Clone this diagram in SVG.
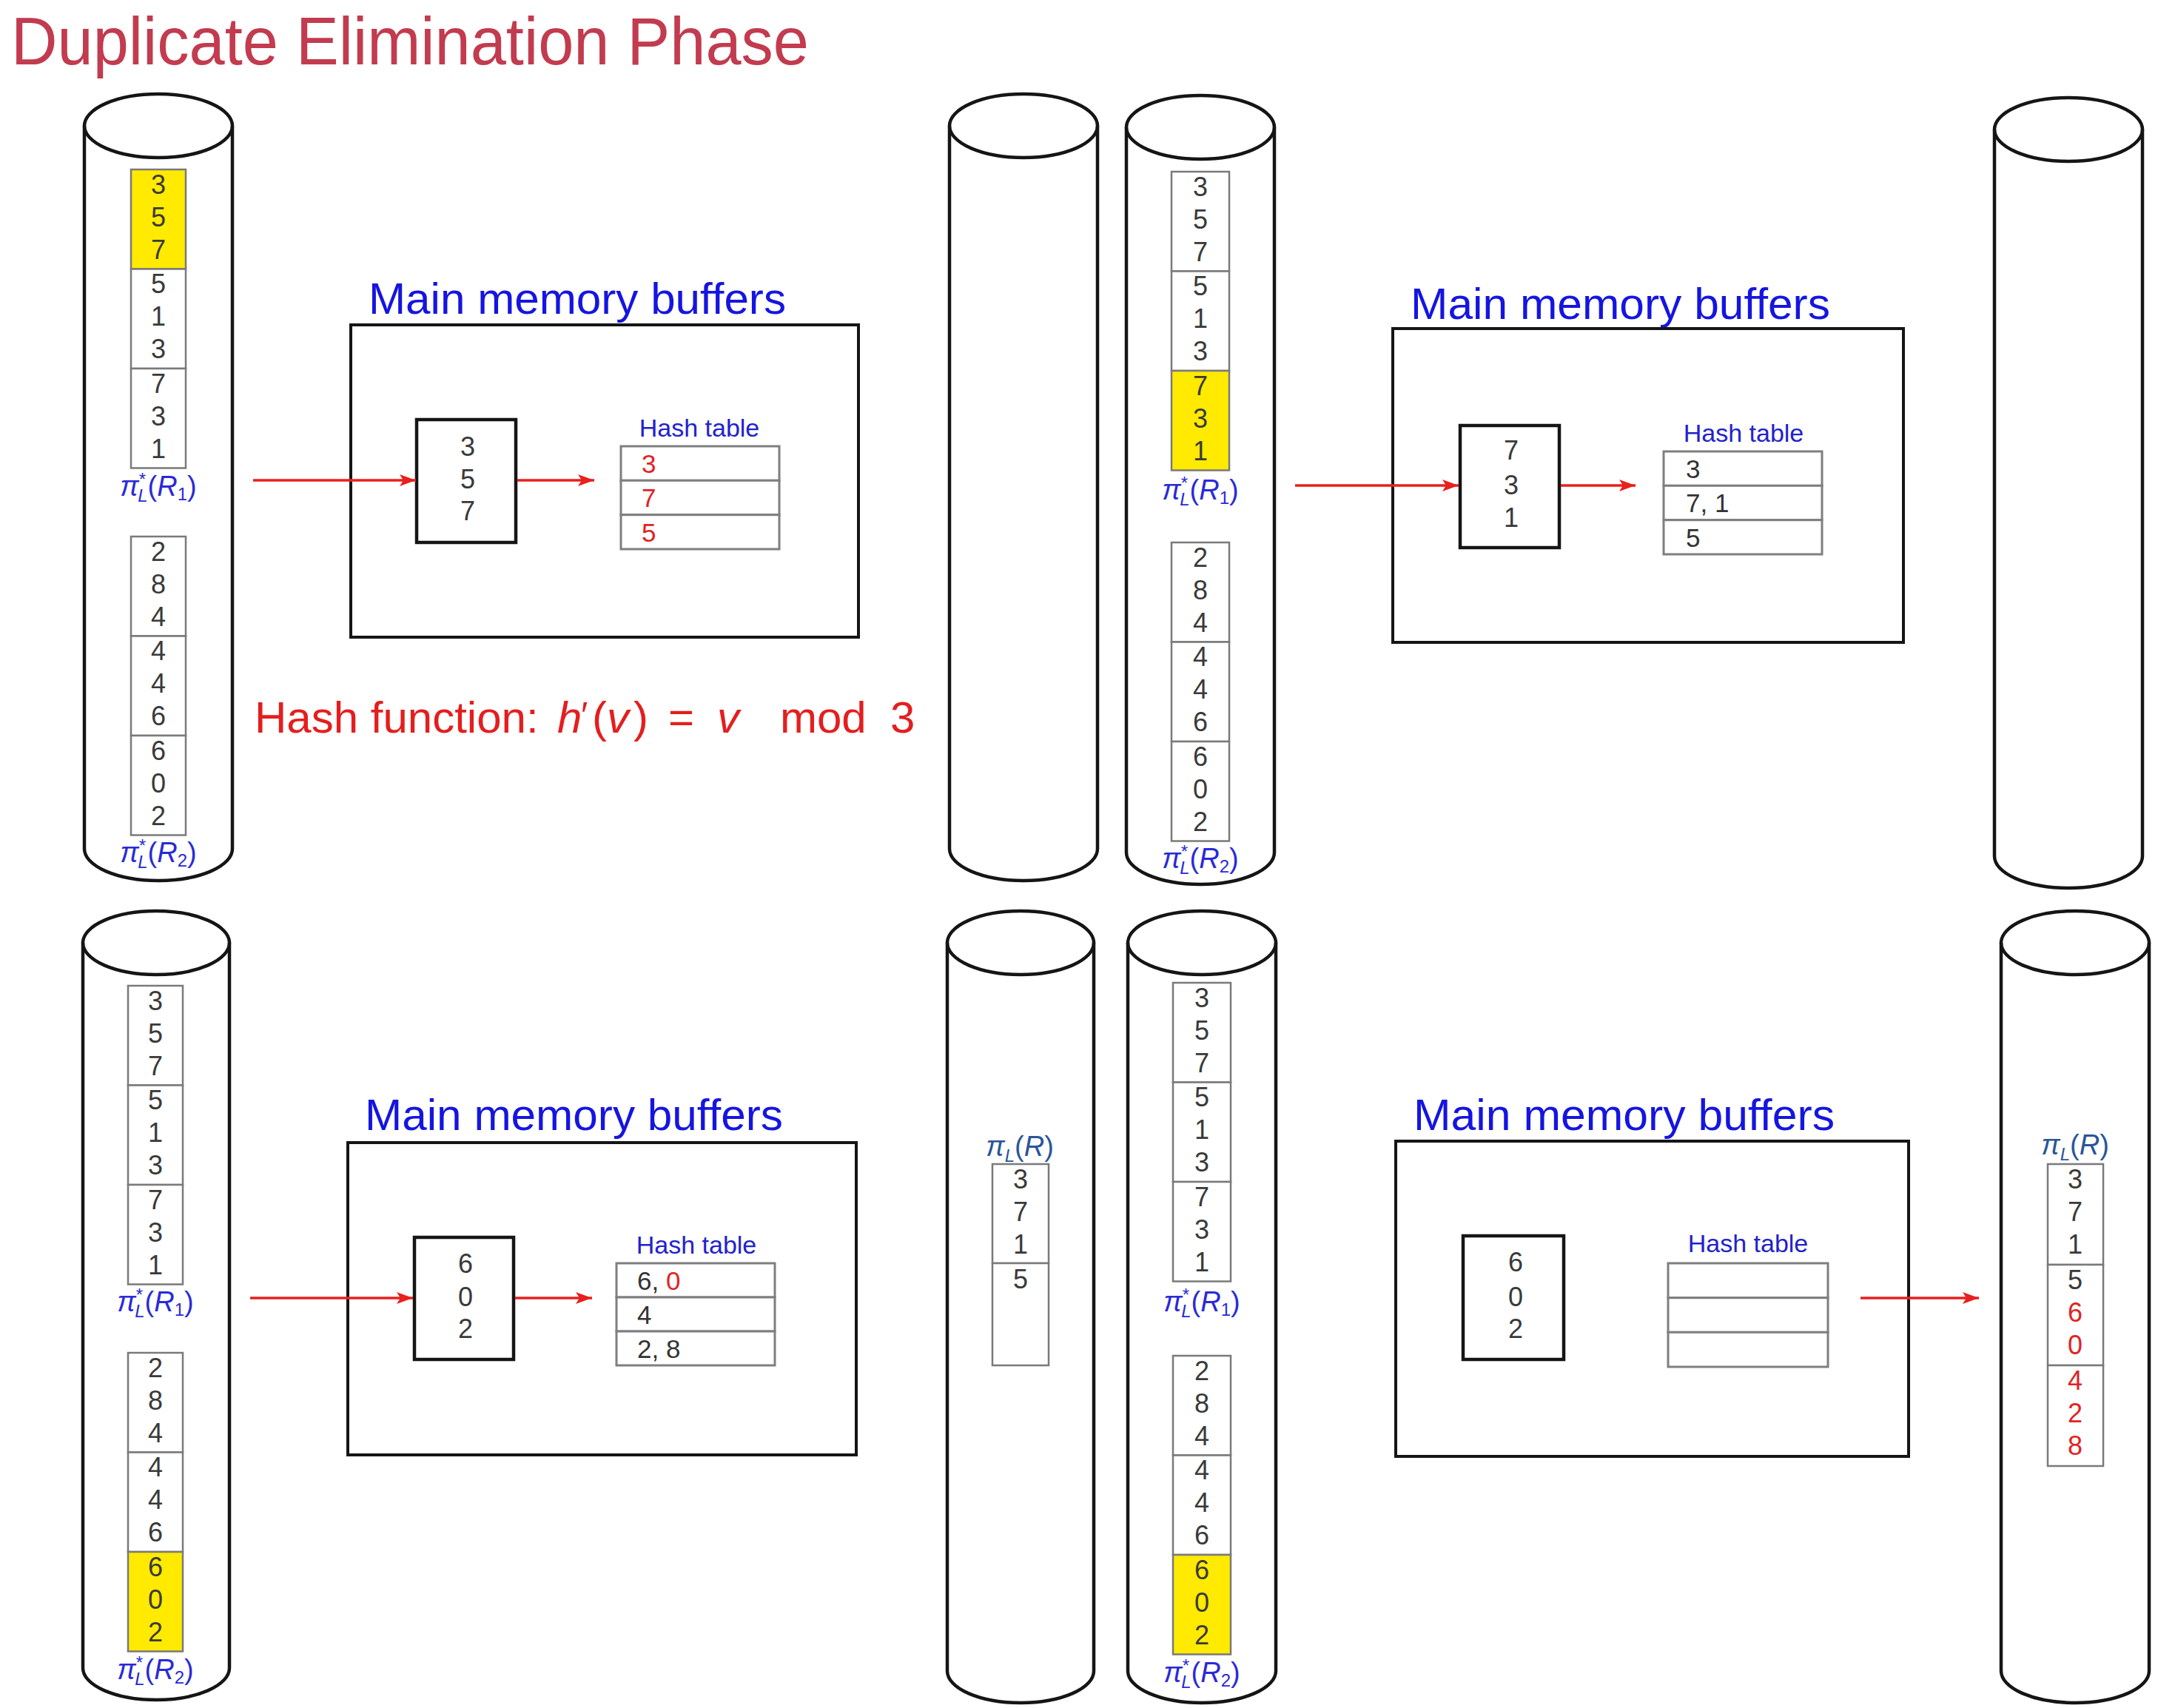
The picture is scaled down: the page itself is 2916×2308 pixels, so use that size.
<svg xmlns="http://www.w3.org/2000/svg" width="2916" height="2308" viewBox="0 0 2916 2308">
<defs>
<style>
.cyl{fill:none;stroke:#151515;stroke-width:4.5}
.blk{fill:#fff;stroke:#7a7a7a;stroke-width:2.5}
.yel{fill:#FFEA00;stroke:#7a7a7a;stroke-width:2.5}
.mem{fill:none;stroke:#151515;stroke-width:4}
.buf{fill:#fff;stroke:#151515;stroke-width:4.5}
.ht{fill:#fff;stroke:#7f7f7f;stroke-width:3}
.d{font-family:"Liberation Sans",Arial,sans-serif;font-size:36px;fill:#3a3a3a;text-anchor:middle}
.hd{font-family:"Liberation Sans",Arial,sans-serif;font-size:35px;fill:#333}
.red{fill:#E02424}
.mmb{font-family:"Liberation Sans",Arial,sans-serif;font-size:60px;fill:#1515E0}
.htl{font-family:"Liberation Sans",Arial,sans-serif;font-size:34px;fill:#2222CC;text-anchor:middle}
.lab{font-family:"Liberation Sans",Arial,sans-serif;font-size:38px;fill:#2a2ad8;text-anchor:middle}
.labr{font-family:"Liberation Sans",Arial,sans-serif;font-size:38px;fill:#2a5598;text-anchor:middle}
.it{font-style:italic}
.arr{stroke:#E8201E;stroke-width:3.5;fill:none;marker-end:url(#ah)}
.hf{font-family:"Liberation Sans",Arial,sans-serif;font-size:60px;fill:#E41E1E}
</style>
<marker id="ah" markerUnits="userSpaceOnUse" markerWidth="24" markerHeight="18" refX="22" refY="8" orient="auto">
<path d="M0,0 L22,8 L0,16 L5,8 z" fill="#E8201E"/>
</marker>
</defs>
<rect width="2916" height="2308" fill="#fff"/>

<text id="title" x="15" y="87" font-family="Liberation Sans, Arial, sans-serif" font-size="90" fill="#C23B4E" textLength="1078" lengthAdjust="spacingAndGlyphs">Duplicate Elimination Phase</text>

<!-- ===== Cylinders ===== -->
<g id="cyl-A">
<path class="cyl" d="M114,170 L114,1147 A100,43 0 0 0 314,1147 L314,170"/>
<ellipse class="cyl" cx="214" cy="170" rx="100" ry="43"/>
</g>
<g id="cyl-B">
<path class="cyl" d="M1283,170 L1283,1147 A100,43 0 0 0 1483,1147 L1483,170"/>
<ellipse class="cyl" cx="1383" cy="170" rx="100" ry="43"/>
</g>
<g id="cyl-C">
<path class="cyl" d="M1522,172 L1522,1152 A100,43 0 0 0 1722,1152 L1722,172"/>
<ellipse class="cyl" cx="1622" cy="172" rx="100" ry="43"/>
</g>
<g id="cyl-D">
<path class="cyl" d="M2695,175 L2695,1157 A100,43 0 0 0 2895,1157 L2895,175"/>
<ellipse class="cyl" cx="2795" cy="175" rx="100" ry="43"/>
</g>
<g id="cyl-E">
<path class="cyl" d="M112,1274 L112,2254 A99,43 0 0 0 310,2254 L310,1274"/>
<ellipse class="cyl" cx="211" cy="1274" rx="99" ry="43"/>
</g>
<g id="cyl-F">
<path class="cyl" d="M1280,1274 L1280,2258 A99,43 0 0 0 1478,2258 L1478,1274"/>
<ellipse class="cyl" cx="1379" cy="1274" rx="99" ry="43"/>
</g>
<g id="cyl-G">
<path class="cyl" d="M1524,1274 L1524,2258 A100,43 0 0 0 1724,2258 L1724,1274"/>
<ellipse class="cyl" cx="1624" cy="1274" rx="100" ry="43"/>
</g>
<g id="cyl-H">
<path class="cyl" d="M2704,1274 L2704,2258 A100,43 0 0 0 2904,2258 L2904,1274"/>
<ellipse class="cyl" cx="2804" cy="1274" rx="100" ry="43"/>
</g>

<!-- ===== Relation blocks, panel TL ===== -->
<g id="A-R1">
<rect class="yel" x="177" y="229" width="74" height="134.5"/>
<rect class="blk" x="177" y="363.5" width="74" height="134.5"/>
<rect class="blk" x="177" y="498" width="74" height="134.5"/>
<text class="d" x="214" y="262">3</text><text class="d" x="214" y="306">5</text><text class="d" x="214" y="350">7</text>
<text class="d" x="214" y="396">5</text><text class="d" x="214" y="440">1</text><text class="d" x="214" y="484">3</text>
<text class="d" x="214" y="531">7</text><text class="d" x="214" y="575">3</text><text class="d" x="214" y="619">1</text>
<text class="lab" x="214" y="670"><tspan class="it">π</tspan><tspan font-size="24" dy="-14">*</tspan><tspan class="it" font-size="24" dx="-11" dy="22">L</tspan><tspan dy="-8">(</tspan><tspan class="it">R</tspan><tspan font-size="24" dy="6">1</tspan><tspan dy="-6">)</tspan></text>
</g>
<g id="A-R2">
<rect class="blk" x="177" y="725" width="74" height="134.5"/>
<rect class="blk" x="177" y="859.5" width="74" height="134.5"/>
<rect class="blk" x="177" y="994" width="74" height="134.5"/>
<text class="d" x="214" y="758">2</text><text class="d" x="214" y="802">8</text><text class="d" x="214" y="846">4</text>
<text class="d" x="214" y="892">4</text><text class="d" x="214" y="936">4</text><text class="d" x="214" y="980">6</text>
<text class="d" x="214" y="1027">6</text><text class="d" x="214" y="1071">0</text><text class="d" x="214" y="1115">2</text>
<text class="lab" x="214" y="1165"><tspan class="it">π</tspan><tspan font-size="24" dy="-14">*</tspan><tspan class="it" font-size="24" dx="-11" dy="22">L</tspan><tspan dy="-8">(</tspan><tspan class="it">R</tspan><tspan font-size="24" dy="6">2</tspan><tspan dy="-6">)</tspan></text>
</g>

<!-- ===== Relation blocks, panel TR ===== -->
<g id="C-R1">
<rect class="blk" x="1583" y="232" width="78" height="134.5"/>
<rect class="blk" x="1583" y="366.5" width="78" height="134.5"/>
<rect class="yel" x="1583" y="501" width="78" height="134.5"/>
<text class="d" x="1622" y="265">3</text><text class="d" x="1622" y="309">5</text><text class="d" x="1622" y="353">7</text>
<text class="d" x="1622" y="399">5</text><text class="d" x="1622" y="443">1</text><text class="d" x="1622" y="487">3</text>
<text class="d" x="1622" y="534">7</text><text class="d" x="1622" y="578">3</text><text class="d" x="1622" y="622">1</text>
<text class="lab" x="1622" y="675"><tspan class="it">π</tspan><tspan font-size="24" dy="-14">*</tspan><tspan class="it" font-size="24" dx="-11" dy="22">L</tspan><tspan dy="-8">(</tspan><tspan class="it">R</tspan><tspan font-size="24" dy="6">1</tspan><tspan dy="-6">)</tspan></text>
</g>
<g id="C-R2">
<rect class="blk" x="1583" y="733" width="78" height="134.5"/>
<rect class="blk" x="1583" y="867.5" width="78" height="134.5"/>
<rect class="blk" x="1583" y="1002" width="78" height="134.5"/>
<text class="d" x="1622" y="766">2</text><text class="d" x="1622" y="810">8</text><text class="d" x="1622" y="854">4</text>
<text class="d" x="1622" y="900">4</text><text class="d" x="1622" y="944">4</text><text class="d" x="1622" y="988">6</text>
<text class="d" x="1622" y="1035">6</text><text class="d" x="1622" y="1079">0</text><text class="d" x="1622" y="1123">2</text>
<text class="lab" x="1622" y="1173"><tspan class="it">π</tspan><tspan font-size="24" dy="-14">*</tspan><tspan class="it" font-size="24" dx="-11" dy="22">L</tspan><tspan dy="-8">(</tspan><tspan class="it">R</tspan><tspan font-size="24" dy="6">2</tspan><tspan dy="-6">)</tspan></text>
</g>

<!-- ===== Relation blocks, panel BL ===== -->
<g id="E-R1">
<rect class="blk" x="173" y="1332" width="74" height="134.5"/>
<rect class="blk" x="173" y="1466.5" width="74" height="134.5"/>
<rect class="blk" x="173" y="1601" width="74" height="134.5"/>
<text class="d" x="210" y="1365">3</text><text class="d" x="210" y="1409">5</text><text class="d" x="210" y="1453">7</text>
<text class="d" x="210" y="1499">5</text><text class="d" x="210" y="1543">1</text><text class="d" x="210" y="1587">3</text>
<text class="d" x="210" y="1634">7</text><text class="d" x="210" y="1678">3</text><text class="d" x="210" y="1722">1</text>
<text class="lab" x="210" y="1772"><tspan class="it">π</tspan><tspan font-size="24" dy="-14">*</tspan><tspan class="it" font-size="24" dx="-11" dy="22">L</tspan><tspan dy="-8">(</tspan><tspan class="it">R</tspan><tspan font-size="24" dy="6">1</tspan><tspan dy="-6">)</tspan></text>
</g>
<g id="E-R2">
<rect class="blk" x="173" y="1828" width="74" height="134.5"/>
<rect class="blk" x="173" y="1962.5" width="74" height="134.5"/>
<rect class="yel" x="173" y="2097" width="74" height="134.5"/>
<text class="d" x="210" y="1861">2</text><text class="d" x="210" y="1905">8</text><text class="d" x="210" y="1949">4</text>
<text class="d" x="210" y="1995">4</text><text class="d" x="210" y="2039">4</text><text class="d" x="210" y="2083">6</text>
<text class="d" x="210" y="2130">6</text><text class="d" x="210" y="2174">0</text><text class="d" x="210" y="2218">2</text>
<text class="lab" x="210" y="2269"><tspan class="it">π</tspan><tspan font-size="24" dy="-14">*</tspan><tspan class="it" font-size="24" dx="-11" dy="22">L</tspan><tspan dy="-8">(</tspan><tspan class="it">R</tspan><tspan font-size="24" dy="6">2</tspan><tspan dy="-6">)</tspan></text>
</g>

<!-- ===== Output in cylinder F ===== -->
<g id="F-out">
<text class="labr" x="1378" y="1562"><tspan class="it">π</tspan><tspan class="it" font-size="24" dy="8">L</tspan><tspan dy="-8">(</tspan><tspan class="it">R</tspan>)</text>
<rect class="blk" x="1341" y="1573" width="76" height="134"/>
<rect class="blk" x="1341" y="1707" width="76" height="138"/>
<text class="d" x="1379" y="1606">3</text><text class="d" x="1379" y="1650">7</text><text class="d" x="1379" y="1694">1</text>
<text class="d" x="1379" y="1741">5</text>
</g>

<!-- ===== Relation blocks, panel BR ===== -->
<g id="G-R1">
<rect class="blk" x="1585" y="1328" width="78" height="134.5"/>
<rect class="blk" x="1585" y="1462.5" width="78" height="134.5"/>
<rect class="blk" x="1585" y="1597" width="78" height="134.5"/>
<text class="d" x="1624" y="1361">3</text><text class="d" x="1624" y="1405">5</text><text class="d" x="1624" y="1449">7</text>
<text class="d" x="1624" y="1495">5</text><text class="d" x="1624" y="1539">1</text><text class="d" x="1624" y="1583">3</text>
<text class="d" x="1624" y="1630">7</text><text class="d" x="1624" y="1674">3</text><text class="d" x="1624" y="1718">1</text>
<text class="lab" x="1624" y="1772"><tspan class="it">π</tspan><tspan font-size="24" dy="-14">*</tspan><tspan class="it" font-size="24" dx="-11" dy="22">L</tspan><tspan dy="-8">(</tspan><tspan class="it">R</tspan><tspan font-size="24" dy="6">1</tspan><tspan dy="-6">)</tspan></text>
</g>
<g id="G-R2">
<rect class="blk" x="1585" y="1832" width="78" height="134.5"/>
<rect class="blk" x="1585" y="1966.5" width="78" height="134.5"/>
<rect class="yel" x="1585" y="2101" width="78" height="134.5"/>
<text class="d" x="1624" y="1865">2</text><text class="d" x="1624" y="1909">8</text><text class="d" x="1624" y="1953">4</text>
<text class="d" x="1624" y="1999">4</text><text class="d" x="1624" y="2043">4</text><text class="d" x="1624" y="2087">6</text>
<text class="d" x="1624" y="2134">6</text><text class="d" x="1624" y="2178">0</text><text class="d" x="1624" y="2222">2</text>
<text class="lab" x="1624" y="2273"><tspan class="it">π</tspan><tspan font-size="24" dy="-14">*</tspan><tspan class="it" font-size="24" dx="-11" dy="22">L</tspan><tspan dy="-8">(</tspan><tspan class="it">R</tspan><tspan font-size="24" dy="6">2</tspan><tspan dy="-6">)</tspan></text>
</g>

<!-- ===== Output in cylinder H ===== -->
<g id="H-out">
<text class="labr" x="2804" y="1560"><tspan class="it">π</tspan><tspan class="it" font-size="24" dy="8">L</tspan><tspan dy="-8">(</tspan><tspan class="it">R</tspan>)</text>
<rect class="blk" x="2767" y="1573" width="75" height="136"/>
<rect class="blk" x="2767" y="1709" width="75" height="136"/>
<rect class="blk" x="2767" y="1845" width="75" height="136"/>
<text class="d" x="2804" y="1606">3</text><text class="d" x="2804" y="1650">7</text><text class="d" x="2804" y="1694">1</text>
<text class="d" x="2804" y="1742">5</text><text class="d red" x="2804" y="1786">6</text><text class="d red" x="2804" y="1830">0</text>
<text class="d red" x="2804" y="1878">4</text><text class="d red" x="2804" y="1922">2</text><text class="d red" x="2804" y="1966">8</text>
</g>

<!-- ===== Memory panel TL ===== -->
<g id="mem-TL">
<text class="mmb" x="498" y="424" textLength="564" lengthAdjust="spacingAndGlyphs">Main memory buffers</text>
<rect class="mem" x="474" y="439" width="686" height="422"/>
<rect class="buf" x="563" y="567" width="134" height="166"/>
<text class="d" x="632" y="616">3</text><text class="d" x="632" y="660">5</text><text class="d" x="632" y="703">7</text>
<text class="htl" x="945" y="590">Hash table</text>
<rect class="ht" x="839" y="603" width="214" height="46.3"/>
<rect class="ht" x="839" y="649.3" width="214" height="46.4"/>
<rect class="ht" x="839" y="695.7" width="214" height="46.3"/>
<text class="hd red" x="867" y="639">3</text>
<text class="hd red" x="867" y="685">7</text>
<text class="hd red" x="867" y="732">5</text>
</g>
<text id="hashfn" class="hf" y="990"><tspan x="344">Hash function:</tspan><tspan class="it" x="753">h</tspan><tspan x="785" font-size="50" dy="-6">′</tspan><tspan x="800" dy="6">(</tspan><tspan class="it" x="820">v</tspan><tspan x="856">)</tspan><tspan x="903">=</tspan><tspan class="it" x="969">v</tspan><tspan x="1054">mod</tspan><tspan x="1203">3</tspan></text>

<!-- ===== Memory panel TR ===== -->
<g id="mem-TR">
<text class="mmb" x="1906" y="431" textLength="567" lengthAdjust="spacingAndGlyphs">Main memory buffers</text>
<rect class="mem" x="1882" y="444" width="690" height="424"/>
<rect class="buf" x="1973" y="575" width="134" height="165"/>
<text class="d" x="2042" y="621">7</text><text class="d" x="2042" y="668">3</text><text class="d" x="2042" y="712">1</text>
<text class="htl" x="2356" y="597">Hash table</text>
<rect class="ht" x="2248" y="610" width="214" height="46.3"/>
<rect class="ht" x="2248" y="656.3" width="214" height="46.4"/>
<rect class="ht" x="2248" y="702.7" width="214" height="46.3"/>
<text class="hd" x="2278" y="646">3</text>
<text class="hd" x="2278" y="692">7, 1</text>
<text class="hd" x="2278" y="739">5</text>
</g>

<!-- ===== Memory panel BL ===== -->
<g id="mem-BL">
<text class="mmb" x="493" y="1527" textLength="565" lengthAdjust="spacingAndGlyphs">Main memory buffers</text>
<rect class="mem" x="470" y="1544" width="687" height="422"/>
<rect class="buf" x="560" y="1672" width="134" height="165"/>
<text class="d" x="629" y="1720">6</text><text class="d" x="629" y="1765">0</text><text class="d" x="629" y="1808">2</text>
<text class="htl" x="941" y="1694">Hash table</text>
<rect class="ht" x="833" y="1707" width="214" height="46"/>
<rect class="ht" x="833" y="1753" width="214" height="46"/>
<rect class="ht" x="833" y="1799" width="214" height="46"/>
<text class="hd" x="861" y="1743" fill="#222">6, <tspan class="red">0</tspan></text>
<text class="hd" x="861" y="1789" fill="#222">4</text>
<text class="hd" x="861" y="1835" fill="#222">2, 8</text>
</g>

<!-- ===== Memory panel BR ===== -->
<g id="mem-BR">
<text class="mmb" x="1910" y="1527" textLength="569" lengthAdjust="spacingAndGlyphs">Main memory buffers</text>
<rect class="mem" x="1886" y="1542" width="693" height="426"/>
<rect class="buf" x="1977" y="1670" width="136" height="167"/>
<text class="d" x="2048" y="1718">6</text><text class="d" x="2048" y="1765">0</text><text class="d" x="2048" y="1808">2</text>
<text class="htl" x="2362" y="1692">Hash table</text>
<rect class="ht" x="2254" y="1707" width="216" height="46.7"/>
<rect class="ht" x="2254" y="1753.7" width="216" height="46.6"/>
<rect class="ht" x="2254" y="1800.3" width="216" height="46.7"/>
</g>

<!-- ===== Connectors ===== -->
<g id="connectors">
<line class="arr" x1="342" y1="649" x2="562" y2="649"/>
<line class="arr" x1="699" y1="649" x2="803" y2="649"/>
<line class="arr" x1="1750" y1="656" x2="1971" y2="656"/>
<line class="arr" x1="2109" y1="656" x2="2210" y2="656"/>
<line class="arr" x1="338" y1="1754" x2="558" y2="1754"/>
<line class="arr" x1="696" y1="1754" x2="800" y2="1754"/>
<line class="arr" x1="2514" y1="1754" x2="2674" y2="1754"/>
</g>
</svg>
